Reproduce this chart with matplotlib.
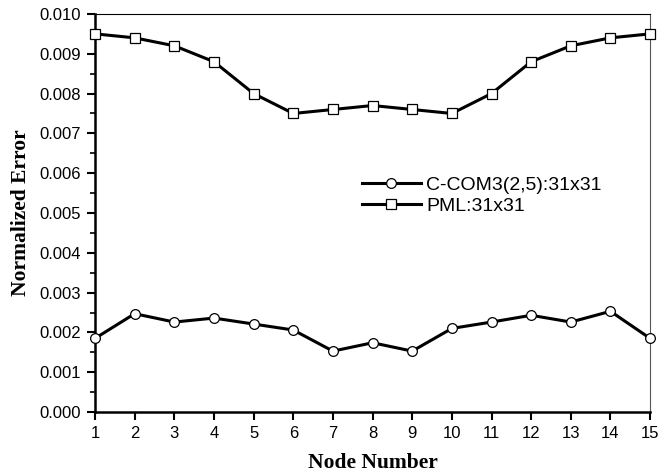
import numpy as np
import matplotlib.pyplot as plt
from matplotlib.ticker import MultipleLocator

nodes = np.arange(1, 16)
ccom = [0.00185, 0.00247, 0.00226, 0.00236, 0.00221, 0.00206, 0.00153, 0.00174,
        0.00153, 0.00210, 0.00226, 0.00243, 0.00226, 0.00253, 0.00185]
pml = [0.0095, 0.0094, 0.0092, 0.0088, 0.0080, 0.0075, 0.0076, 0.0077,
       0.0076, 0.0075, 0.0080, 0.0088, 0.0092, 0.0094, 0.0095]

fig = plt.figure(figsize=(6.6, 4.75), dpi=100)
ax = fig.add_axes([0.144, 0.1326, 0.841, 0.838])

ax.plot(nodes, ccom, color='black', lw=2.2, marker='o', ms=7, mfc='white',
        mec='black', mew=0.9, label='C-COM3(2,5):31x31', clip_on=False, zorder=3)
ax.plot(nodes, pml, color='black', lw=2.2, marker='s', ms=6.5, mfc='white',
        mec='black', mew=0.9, label='PML:31x31', clip_on=False, zorder=3)

ax.set_xlim(1, 15)
ax.set_ylim(0, 0.010)
ax.set_xticks(nodes)
ax.yaxis.set_major_locator(MultipleLocator(0.001))
ax.yaxis.set_minor_locator(MultipleLocator(0.0005))
ax.yaxis.set_major_formatter(plt.FormatStrFormatter('%.3f'))

for side in ['left', 'bottom']:
    ax.spines[side].set_linewidth(1.8)
ax.spines['top'].set_linewidth(0.8)
ax.spines['right'].set_linewidth(0.8)
ax.spines['right'].set_color('#555555')

ax.tick_params(which='major', direction='out', length=6, width=1.5,
               labelsize=12, pad=4)
ax.tick_params(which='minor', direction='out', length=3.5, width=1.2)
for lab in ax.get_xticklabels() + ax.get_yticklabels():
    lab.set_fontfamily('Liberation Sans')

ax.set_xlabel('Node Number', fontsize=15.5, fontweight='bold',
              fontfamily='Liberation Serif', labelpad=9)
ax.set_ylabel('Normalized Error', fontsize=15.5, fontweight='bold',
              fontfamily='Liberation Serif', labelpad=6)

leg = ax.legend(loc='upper left', bbox_to_anchor=(0.45, 0.637), frameon=False,
                prop={'family': 'Liberation Sans', 'size': 14},
                handlelength=3, handletextpad=0.3, labelspacing=0.2)

fig.savefig('out.png', dpi=100)
